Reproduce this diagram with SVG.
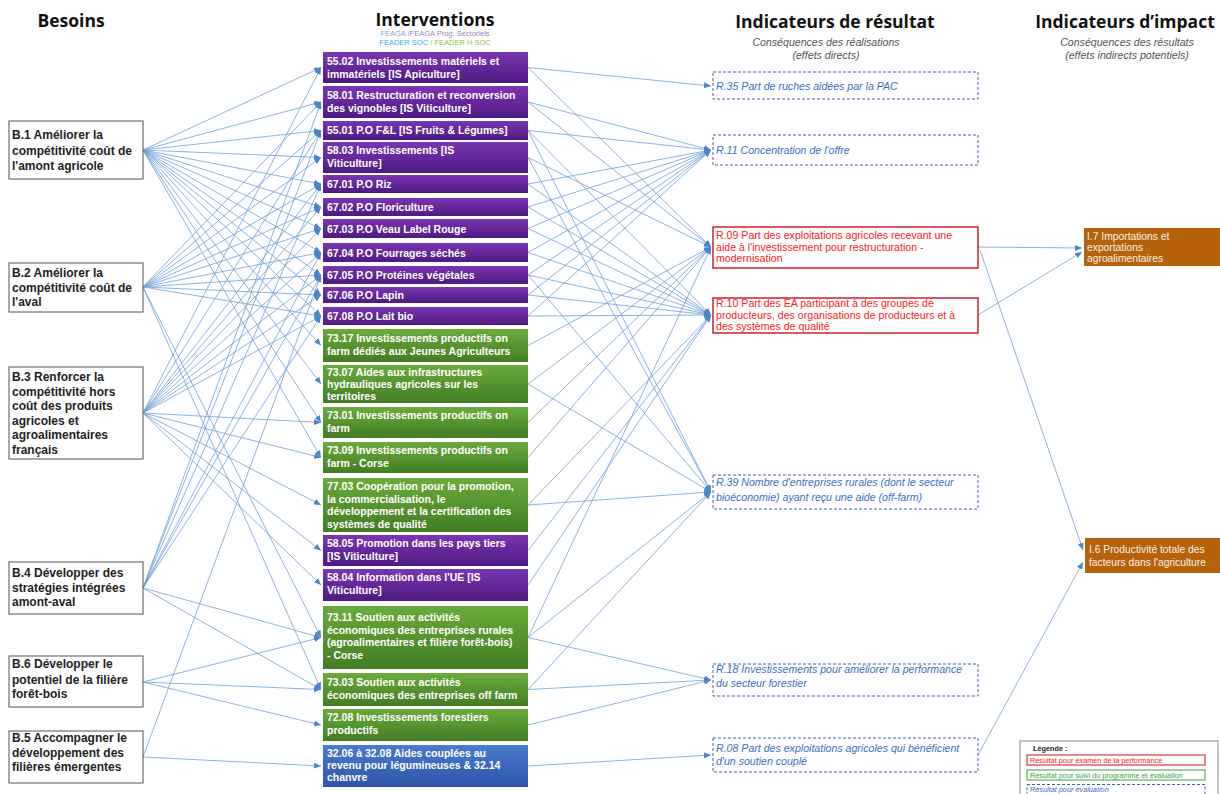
<svg xmlns="http://www.w3.org/2000/svg" width="1220" height="794" viewBox="0 0 1220 794">
<style>
.hdr{font-family:"Open Sans","Liberation Sans",sans-serif;font-weight:700;font-size:17.5px;fill:#111;text-anchor:middle}
.sub{font-family:"Liberation Sans",Arial,sans-serif;font-style:italic;font-size:10.6px;fill:#555;text-anchor:middle}
.fsub{font-family:"Liberation Sans",Arial,sans-serif;font-size:7.5px;text-anchor:middle}
.bes rect{fill:#fff;stroke:#555;stroke-width:1}
.bes text{font-family:"Liberation Sans",Arial,sans-serif;font-weight:700;font-size:12px;fill:#222}
.itv text{font-family:"Liberation Sans",Arial,sans-serif;font-weight:700;font-size:10.5px;fill:#fff}
.pur{fill:url(#gp)}
.grn{fill:url(#gg)}
.blu{fill:url(#gb)}
.res rect{fill:#fff;stroke:#2f4f9f;stroke-width:0.9;stroke-dasharray:3 2}
.res text{font-family:"Liberation Sans",Arial,sans-serif;font-style:italic;font-size:10.6px;fill:#3a6fc4}
.red rect{fill:#fff;stroke:#c00010;stroke-width:1.3;stroke-dasharray:none}
.red text{font-style:normal;fill:#ff2020}
.imp rect{fill:#b5620a}
.imp text{font-family:"Liberation Sans",Arial,sans-serif;font-size:10.3px;fill:#fdf1e0}
.cn path{fill:none;stroke:#6fa0d8;stroke-width:0.8;marker-end:url(#ah)}
.leg text{font-family:"Liberation Sans",Arial,sans-serif;font-size:7.3px}
</style>
<defs>
<linearGradient id="gp" x1="0" y1="0" x2="0" y2="1"><stop offset="0" stop-color="#7a36b2"/><stop offset="1" stop-color="#4e1a82"/></linearGradient>
<linearGradient id="gg" x1="0" y1="0" x2="0" y2="1"><stop offset="0" stop-color="#6aab3b"/><stop offset="1" stop-color="#427d24"/></linearGradient>
<linearGradient id="gb" x1="0" y1="0" x2="0" y2="1"><stop offset="0" stop-color="#4a7bd0"/><stop offset="1" stop-color="#2c55a8"/></linearGradient>
<marker id="ah" markerUnits="userSpaceOnUse" markerWidth="7" markerHeight="6" refX="7" refY="3" orient="auto"><path d="M0,0 L7,3 L0,6 z" fill="#4a86c8"/></marker>
</defs>
<rect width="1220" height="794" fill="#fff"/>

<text class="hdr" x="71" y="27">Besoins</text>
<text class="hdr" x="435" y="26">Interventions</text>
<text class="fsub" x="435" y="36"><tspan fill="#8fa8c8">FEAGA</tspan><tspan fill="#9a86c0"> /FEAGA Prog. Sectoriels</tspan></text>
<text class="fsub" x="435" y="45"><tspan fill="#29b6e8">FEADER SOC</tspan><tspan fill="#8cc63f"> / FEADER H SOC</tspan></text>
<text class="hdr" x="835" y="28">Indicateurs de résultat</text>
<text class="sub" x="826" y="46">Conséquences des réalisations</text>
<text class="sub" x="826" y="59">(effets directs)</text>
<text class="hdr" x="1125" y="28">Indicateurs d’impact</text>
<text class="sub" x="1127" y="46">Conséquences des résultats</text>
<text class="sub" x="1127" y="59">(effets indirects potentiels)</text>

<g id="connectors" class="cn">
<!-- B1 -->
<path d="M143,150 L321,67.5"/><path d="M143,150 L321,102"/><path d="M143,150 L321,130.5"/><path d="M143,150 L321,157.5"/><path d="M143,150 L321,184"/><path d="M143,150 L321,207"/><path d="M143,150 L321,228.5"/><path d="M143,150 L321,252.5"/><path d="M143,150 L321,275"/><path d="M143,150 L321,295"/><path d="M143,150 L321,316"/><path d="M143,150 L321,345.5"/><path d="M143,150 L321,384"/><path d="M143,150 L321,422.5"/><path d="M143,150 L321,457.5"/>
<!-- B2 -->
<path d="M143,287 L321,102"/><path d="M143,287 L321,130.5"/><path d="M143,287 L321,157.5"/><path d="M143,287 L321,184"/><path d="M143,287 L321,207"/><path d="M143,287 L321,228.5"/><path d="M143,287 L321,252.5"/><path d="M143,287 L321,275"/><path d="M143,287 L321,295"/><path d="M143,287 L321,316"/><path d="M143,287 L321,637.5"/><path d="M143,287 L321,689.5"/>
<!-- B3 -->
<path d="M143,413 L321,67.5"/><path d="M143,413 L321,130.5"/><path d="M143,413 L321,184"/><path d="M143,413 L321,207"/><path d="M143,413 L321,228.5"/><path d="M143,413 L321,252.5"/><path d="M143,413 L321,275"/><path d="M143,413 L321,295"/><path d="M143,413 L321,316"/><path d="M143,413 L321,422.5"/><path d="M143,413 L321,457.5"/><path d="M143,413 L321,505"/><path d="M143,413 L321,550.5"/><path d="M143,413 L321,585"/>
<!-- B4 -->
<path d="M143,588 L321,102"/><path d="M143,588 L321,130.5"/><path d="M143,588 L321,184"/><path d="M143,588 L321,252.5"/><path d="M143,588 L321,275"/><path d="M143,588 L321,316"/><path d="M143,588 L321,637.5"/><path d="M143,588 L321,689.5"/>
<!-- B6 -->
<path d="M143,682 L321,637.5"/><path d="M143,682 L321,689.5"/><path d="M143,682 L321,725"/>
<!-- B5 -->
<path d="M143,757 L321,275"/><path d="M143,757 L321,766"/>
<!-- interventions to results -->
<path d="M528,67.5 L711,86"/><path d="M528,67.5 L711,247"/>
<path d="M528,102 L711,150"/><path d="M528,102 L711,247"/>
<path d="M528,130.5 L711,150"/><path d="M528,130.5 L711,315"/><path d="M528,130.5 L711,492"/>
<path d="M528,157.5 L711,247"/><path d="M528,157.5 L711,492"/>
<path d="M528,184 L711,150"/><path d="M528,184 L711,315"/>
<path d="M528,207 L711,150"/><path d="M528,207 L711,315"/>
<path d="M528,228.5 L711,150"/><path d="M528,228.5 L711,315"/>
<path d="M528,252.5 L711,150"/><path d="M528,252.5 L711,315"/>
<path d="M528,275 L711,150"/><path d="M528,275 L711,315"/><path d="M528,275 L711,492"/>
<path d="M528,295 L711,150"/><path d="M528,295 L711,315"/>
<path d="M528,316 L711,150"/><path d="M528,316 L711,315"/>
<path d="M528,345.5 L711,247"/>
<path d="M528,384 L711,247"/><path d="M528,384 L711,492"/>
<path d="M528,422.5 L711,247"/>
<path d="M528,457.5 L711,247"/>
<path d="M528,505 L711,315"/><path d="M528,505 L711,492"/>
<path d="M528,550.5 L711,315"/>
<path d="M528,585 L711,315"/>
<path d="M528,637.5 L711,247"/><path d="M528,637.5 L711,492"/><path d="M528,637.5 L711,680"/>
<path d="M528,689.5 L711,492"/><path d="M528,689.5 L711,680"/>
<path d="M528,725 L711,680"/>
<path d="M528,766 L711,755"/>
<!-- results to impacts -->
<path d="M978,247 L1082,248"/>
<path d="M978,315 L1082,252"/>
<path d="M980,250 L1083,550"/>
<path d="M978,755 L1083,562"/>
</g>

<g id="b1" class="bes"><rect x="9" y="121" width="134" height="58"/><text x="12" y="139">B.1 Améliorer la</text><text x="12" y="154.5">compétitivité coût de</text><text x="12" y="170">l'amont agricole</text></g>
<g id="b2" class="bes"><rect x="9" y="263" width="134" height="49"/><text x="12" y="277">B.2 Améliorer la</text><text x="12" y="292">compétitivité coût de</text><text x="12" y="306">l'aval</text></g>
<g id="b3" class="bes"><rect x="9" y="367" width="134" height="92"/><text x="12" y="381">B.3 Renforcer la</text><text x="12" y="395.5">compétitivité hors</text><text x="12" y="410">coût des produits</text><text x="12" y="424.5">agricoles et</text><text x="12" y="439">agroalimentaires</text><text x="12" y="453.5">français</text></g>
<g id="b4" class="bes"><rect x="9" y="562" width="134" height="52"/><text x="12" y="577">B.4 Développer des</text><text x="12" y="592">stratégies intégrées</text><text x="12" y="606">amont-aval</text></g>
<g id="b6" class="bes"><rect x="9" y="656" width="134" height="51"/><text x="12" y="668">B.6 Développer le</text><text x="12" y="684">potentiel de la filière</text><text x="12" y="698">forêt-bois</text></g>
<g id="b5" class="bes"><rect x="9" y="731" width="134" height="52"/><text x="12" y="742">B.5 Accompagner le</text><text x="12" y="757">développement des</text><text x="12" y="771">filières émergentes</text></g>

<g class="itv">
<g id="i5502"><rect class="pur" x="323" y="52" width="205" height="31"/><text x="327" y="65">55.02 Investissements matériels et</text><text x="327" y="78">immatériels [IS Apiculture]</text></g>
<g id="i5801"><rect class="pur" x="323" y="86" width="205" height="32"/><text x="327" y="99">58.01 Restructuration et reconversion</text><text x="327" y="112">des vignobles [IS Viticulture]</text></g>
<g id="i5501"><rect class="pur" x="323" y="121" width="205" height="19"/><text x="327" y="134">55.01 P.O F&amp;L [IS Fruits &amp; Légumes]</text></g>
<g id="i5803"><rect class="pur" x="323" y="142" width="205" height="31"/><text x="327" y="154">58.03 Investissements [IS</text><text x="327" y="167">Viticulture]</text></g>
<g id="i6701"><rect class="pur" x="323" y="175" width="205" height="18"/><text x="327" y="188">67.01 P.O Riz</text></g>
<g id="i6702"><rect class="pur" x="323" y="198" width="205" height="18"/><text x="327" y="211">67.02 P.O Floriculture</text></g>
<g id="i6703"><rect class="pur" x="323" y="219" width="205" height="19"/><text x="327" y="232.5">67.03 P.O Veau Label Rouge</text></g>
<g id="i6704"><rect class="pur" x="323" y="243" width="205" height="19"/><text x="327" y="256.5">67.04 P.O Fourrages séchés</text></g>
<g id="i6705"><rect class="pur" x="323" y="266" width="205" height="18"/><text x="327" y="279">67.05 P.O Protéines végétales</text></g>
<g id="i6706"><rect class="pur" x="323" y="287" width="205" height="16"/><text x="327" y="299">67.06 P.O Lapin</text></g>
<g id="i6708"><rect class="pur" x="323" y="307" width="205" height="18"/><text x="327" y="320">67.08 P.O Lait bio</text></g>
<g id="i7317"><rect class="grn" x="323" y="329" width="205" height="33"/><text x="327" y="342">73.17 Investissements productifs on</text><text x="327" y="355">farm dédiés aux Jeunes Agriculteurs</text></g>
<g id="i7307"><rect class="grn" x="323" y="365" width="205" height="38"/><text x="327" y="376">73.07 Aides aux infrastructures</text><text x="327" y="388">hydrauliques agricoles sur les</text><text x="327" y="400">territoires</text></g>
<g id="i7301"><rect class="grn" x="323" y="407" width="205" height="31"/><text x="327" y="419">73.01 Investissements productifs on</text><text x="327" y="432">farm</text></g>
<g id="i7309"><rect class="grn" x="323" y="442" width="205" height="31"/><text x="327" y="454">73.09 Investissements productifs on</text><text x="327" y="467">farm - Corse</text></g>
<g id="i7703"><rect class="grn" x="323" y="478" width="205" height="54"/><text x="327" y="490">77.03  Coopération pour la promotion,</text><text x="327" y="502.5">la commercialisation, le</text><text x="327" y="515">développement et la certification des</text><text x="327" y="527.5">systèmes de qualité</text></g>
<g id="i5805"><rect class="pur" x="323" y="535" width="205" height="31"/><text x="327" y="547">58.05 Promotion dans les pays tiers</text><text x="327" y="560">[IS Viticulture]</text></g>
<g id="i5804"><rect class="pur" x="323" y="569" width="205" height="32"/><text x="327" y="581">58.04 Information dans l'UE [IS</text><text x="327" y="594">Viticulture]</text></g>
<g id="i7311"><rect class="grn" x="323" y="606" width="205" height="63"/><text x="327" y="621">73.11 Soutien aux activités</text><text x="327" y="633.5">économiques des entreprises rurales</text><text x="327" y="646">(agroalimentaires et filière forêt-bois)</text><text x="327" y="658.5">- Corse</text></g>
<g id="i7303"><rect class="grn" x="323" y="673" width="205" height="33"/><text x="327" y="686">73.03 Soutien aux activités</text><text x="327" y="698.5">économiques des entreprises off farm</text></g>
<g id="i7208"><rect class="grn" x="323" y="709" width="205" height="32"/><text x="327" y="721">72.08 Investissements forestiers</text><text x="327" y="734">productifs</text></g>
<g id="i3206"><rect class="blu" x="323" y="745" width="205" height="42"/><text x="327" y="757">32.06 à 32.08 Aides couplées au</text><text x="327" y="769">revenu pour légumineuses &amp; 32.14</text><text x="327" y="781">chanvre</text></g>
</g>

<g id="r35" class="res"><rect x="713" y="72" width="265" height="27"/><text x="716" y="90">R.35 Part de ruches aidées par la PAC</text></g>
<g id="r11" class="res"><rect x="713" y="135" width="265" height="30"/><text x="716" y="153.5">R.11 Concentration de l'offre</text></g>
<g id="r09" class="res red"><rect x="713" y="227" width="265" height="41"/><text x="716" y="238.5">R.09 Part des exploitations agricoles recevant une</text><text x="716" y="250.5">aide à l'investissement pour restructuration -</text><text x="716" y="262">modernisation</text></g>
<g id="r10" class="res red"><rect x="713" y="298" width="265" height="35"/><text x="716" y="307">R.10 Part des EA participant à des groupes de</text><text x="716" y="318.5">producteurs, des organisations de producteurs et à</text><text x="716" y="330">des systèmes de qualité</text></g>
<g id="r39" class="res"><rect x="713" y="475" width="265" height="34"/><text x="716" y="486">R.39 Nombre d'entreprises rurales (dont le secteur</text><text x="716" y="501">bioéconomie) ayant reçu une aide (off-farm)</text></g>
<g id="r18" class="res"><rect x="713" y="664" width="265" height="32"/><text x="716" y="673">R.18 Investissements pour améliorer la performance</text><text x="716" y="687">du secteur forestier</text></g>
<g id="r08" class="res"><rect x="713" y="738" width="265" height="34"/><text x="716" y="751.5">R.08 Part des exploitations agricoles qui bénéficient</text><text x="716" y="764.5">d'un soutien couplé</text></g>

<g id="i7" class="imp"><rect x="1084" y="228" width="136" height="38"/><text x="1087" y="240">I.7 Importations et</text><text x="1087" y="251">exportations</text><text x="1087" y="262">agroalimentaires</text></g>
<g id="i6" class="imp"><rect x="1085" y="538" width="135" height="35"/><text x="1089" y="553">I.6 Productivité totale des</text><text x="1089" y="565.5">facteurs dans l'agriculture</text></g>

<g id="legend" class="leg">
<rect x="1020" y="741" width="198" height="60" fill="#fff" stroke="#888" stroke-width="1"/>
<text x="1033" y="751" font-weight="700" fill="#222" font-size="6.5px">Légende :</text>
<rect x="1027" y="755" width="178" height="10" fill="#fff" stroke="#d0102a" stroke-width="1"/>
<text x="1030" y="763" fill="#ff2020">Résultat pour examen de la performance</text>
<rect x="1027" y="770" width="178" height="10" fill="#fff" stroke="#3aa040" stroke-width="1"/>
<text x="1030" y="778" fill="#3aa040">Résultat pour suivi du programme et évaluation</text>
<rect x="1027" y="784.5" width="178" height="10" fill="#fff" stroke="#2f4f9f" stroke-width="0.9" stroke-dasharray="3 2"/>
<text x="1030" y="791.5" fill="#3a6fc4" font-style="italic">Résultat pour évaluation</text>
</g>
</svg>
